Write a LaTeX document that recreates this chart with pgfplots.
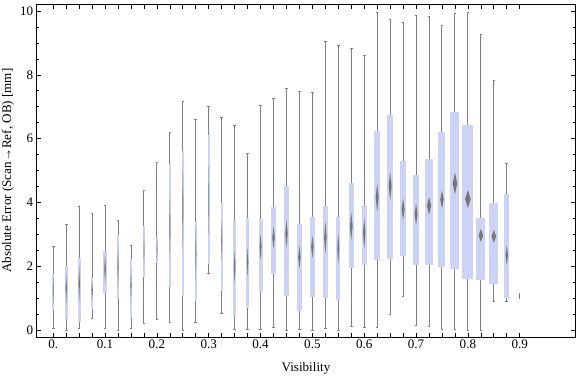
\documentclass[border=0pt]{standalone}
\usepackage{fontspec}
\setmainfont{Liberation Serif}
\usepackage{pgfplots}
\usepackage{pgfplotstable}
\pgfplotsset{compat=1.18}
\usepgfplotslibrary{statistics}
\definecolor{boxc}{RGB}{204,211,245}
\definecolor{whiskc}{RGB}{128,128,128}
\definecolor{diamc}{RGB}{118,118,118}
\pgfdeclareplotmark{vdiam}{%
 \pgfpathmoveto{\pgfqpoint{0pt}{1pt}}%
 \pgfpathlineto{\pgfqpoint{1pt}{0pt}}%
 \pgfpathlineto{\pgfqpoint{0pt}{-1pt}}%
 \pgfpathlineto{\pgfqpoint{-1pt}{0pt}}%
 \pgfpathclose\pgfusepathqfill}

% x: category, lw/uw: whiskers, lq/uq: quartiles, med: median,
% bw: box width (px), dh: diamond height (px), we: whisker cap extent
\pgfplotstableread{
x lw lq med uq uw bw dh we
0.000 0.05 0.63 1.25 1.76 2.63 2.0 27 0.005
0.025 0.00 0.34 1.31 2.01 3.31 2.7 30 0.005
0.050 0.05 0.26 1.46 2.27 3.88 3.0 37 0.005
0.075 0.37 0.67 1.25 1.63 3.67 2.7 20 0.005
0.100 0.05 1.18 1.93 2.48 3.91 3.3 30 0.005
0.125 0.00 0.97 1.99 2.97 3.45 2.3 43 0.005
0.150 0.05 0.37 1.41 2.23 2.65 2.3 33 0.005
0.175 0.21 1.67 2.51 3.26 4.38 1.7 33 0.005
0.200 0.33 2.12 2.51 2.92 5.26 1.7 25 0.005
0.225 0.23 1.36 3.24 5.20 6.20 2.3 67 0.005
0.250 0.00 1.08 3.87 5.61 7.17 2.3 83 0.005
0.275 0.26 0.91 2.40 3.39 6.61 2.0 57 0.005
0.300 1.78 2.07 4.08 6.11 7.01 2.0 67 0.005
0.325 0.52 1.23 2.82 3.98 6.67 2.0 40 0.005
0.350 0.02 0.45 1.99 3.42 6.42 3.3 33 0.005
0.375 0.02 0.70 2.14 3.53 5.54 3.0 30 0.005
0.400 0.02 1.20 2.61 3.50 7.04 4.0 27 0.005
0.425 0.08 1.76 2.90 3.86 7.26 5.0 22 0.005
0.450 0.00 1.09 3.03 4.51 7.58 5.0 28 0.005
0.475 0.02 0.61 2.30 3.32 7.49 5.0 23 0.005
0.500 0.00 1.04 2.61 3.54 7.45 5.0 23 0.005
0.525 0.05 1.01 2.90 3.89 9.05 5.0 32 0.005
0.550 0.00 0.95 2.56 3.54 8.92 4.0 30 0.005
0.575 0.13 1.95 3.26 4.61 8.83 5.3 28 0.005
0.600 0.08 2.04 3.05 3.91 8.62 5.0 30 0.005
0.625 0.10 2.20 4.16 6.24 9.96 6.0 28 0.005
0.650 0.49 2.24 4.52 6.74 9.74 6.0 28 0.005
0.675 1.07 2.33 3.79 5.30 9.64 6.0 22 0.005
0.700 0.16 2.04 3.64 4.86 9.86 6.0 22 0.005
0.725 0.13 2.04 3.90 5.36 9.83 8.0 18 0.005
0.750 0.02 1.99 4.10 6.21 9.55 7.0 18 0.005
0.775 0.02 1.92 4.60 6.83 9.93 9.0 22 0.005
0.800 0.00 1.61 4.11 6.43 9.96 11.0 18 0.005
0.825 0.00 1.58 2.97 3.51 9.25 9.0 13 0.005
0.850 0.90 1.45 2.94 3.98 7.81 9.0 13 0.005
0.875 0.90 1.02 2.35 4.26 5.22 5.0 20 0.005
0.900 0.97 1.07 1.07 1.07 1.18 0.0 2 0.0
}\bxdata

\begin{document}
\begin{tikzpicture}[font=\fontsize{9.8}{11.5}\selectfont]
\begin{axis}[
  scale only axis,
  width=403.95pt, height=249.75pt,
  xmin=-0.032, xmax=1.0073, ymin=-0.219, ymax=10.21,
  axis line style={line width=0.6pt},
  tick align=inside, tick pos=both,
  xtick={0,0.025,0.05,0.075,0.1,0.125,0.15,0.175,0.2,0.225,0.25,0.275,0.3,0.325,0.35,0.375,0.4,0.425,0.45,0.475,0.5,0.525,0.55,0.575,0.6,0.625,0.65,0.675,0.7,0.725,0.75,0.775,0.8,0.825,0.85,0.875,0.9},
  xticklabels={{0.},{},{},{},{0.1},{},{},{},{0.2},{},{},{},{0.3},{},{},{},{0.4},{},{},{},{0.5},{},{},{},{0.6},{},{},{},{0.7},{},{},{},{0.8},{},{},{},{0.9}},
  ytick={0,2,4,6,8,10},
  minor y tick num=3,
  major tick length=3.4pt, minor tick length=2pt,
  tick style={black, line width=0.5pt},
  /pgf/number format/assume math mode=true,
  xticklabel style={inner sep=2pt},
  yticklabel style={inner sep=2.5pt},
  xlabel={Visibility},
  ylabel={Absolute Error (Scan→Ref, OB) [mm]},
  every axis x label/.style={at={(axis description cs:0.5,-0.0921)}, anchor=center},
  every axis y label/.style={at={(axis description cs:-0.0532,0.5)}, rotate=90, anchor=center},
  boxplot/draw direction=y,
  boxplot/every box/.style={fill=boxc, draw=none},
  boxplot/every whisker/.style={draw=whiskc, line width=0.75pt},
  boxplot/every median/.style={draw=none},
]
\pgfplotsinvokeforeach{0,...,36}{
  \pgfplotstablegetelem{#1}{x}\of\bxdata \let\vx\pgfplotsretval
  \pgfplotstablegetelem{#1}{lw}\of\bxdata \let\vlw\pgfplotsretval
  \pgfplotstablegetelem{#1}{lq}\of\bxdata \let\vlq\pgfplotsretval
  \pgfplotstablegetelem{#1}{med}\of\bxdata \let\vmed\pgfplotsretval
  \pgfplotstablegetelem{#1}{uq}\of\bxdata \let\vuq\pgfplotsretval
  \pgfplotstablegetelem{#1}{uw}\of\bxdata \let\vuw\pgfplotsretval
  \pgfplotstablegetelem{#1}{we}\of\bxdata \let\vwe\pgfplotsretval
  \pgfplotstablegetelem{#1}{bw}\of\bxdata \pgfmathsetmacro\vbe{\pgfplotsretval/518.2}
  \edef\doplot{\noexpand\addplot[boxplot prepared={draw position=\vx, lower whisker=\vlw, lower quartile=\vlq, median=\vmed, upper quartile=\vuq, upper whisker=\vuw, box extend=\vbe, whisker extend=\vwe}] coordinates {};}
  \doplot
}
\addplot[scatter, only marks, mark=vdiam, color=diamc, fill=diamc,
  visualization depends on={0.375*\thisrow{dh} \as \hh},
  visualization depends on={max(0.1875*\thisrow{bw},0.3) \as \ww},
  scatter/@pre marker code/.code={\scope[xscale=\ww,yscale=\hh]},
  scatter/@post marker code/.code={\endscope}]
  table[x=x, y=med] {\bxdata};
\end{axis}
\pgfresetboundingbox
\path[use as bounding box] ([shift={(-27.5pt,-29.8pt)}]current axis.south west) rectangle ([shift={(0.5pt,3.2pt)}]current axis.north east);
\end{tikzpicture}
\end{document}
